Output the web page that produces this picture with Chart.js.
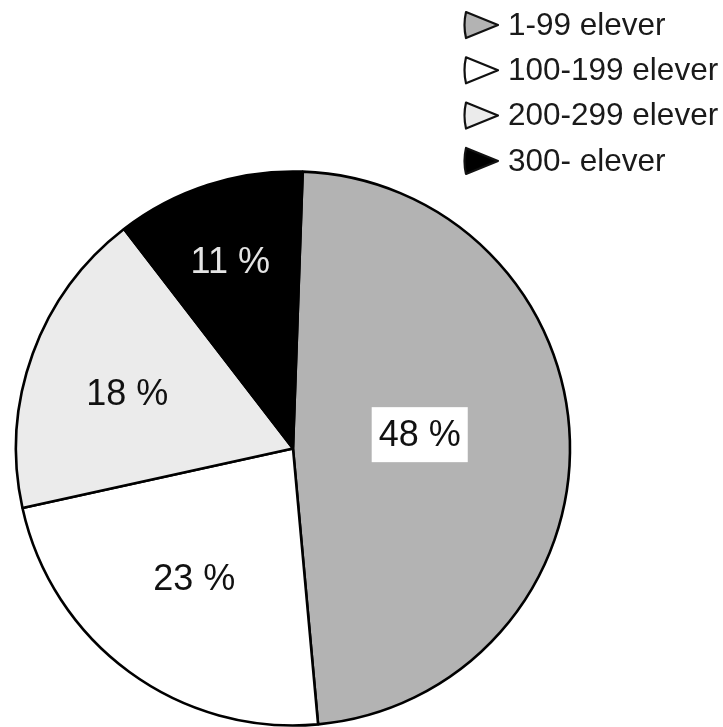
<!DOCTYPE html>
<html>
<head>
<meta charset="utf-8">
<script src="https://cdn.jsdelivr.net/npm/chart.js@4/dist/chart.umd.min.js"></script>
<style>
  html, body { margin: 0; padding: 0; background: #fff; }
  canvas { display: block; }
</style>
</head>
<body>
<canvas id="pie" width="723" height="727"></canvas>
<script>
// School size groups and their share of schools (percent)
const categories = ['1-99 elever', '100-199 elever', '200-299 elever', '300- elever'];
const shares = [48, 23, 18, 11];
const sliceColors = ['#b3b3b3', '#ffffff', '#ebebeb', '#000000'];
const labelColors = ['#111111', '#111111', '#111111', '#e4e4e4'];

// Slice labels and the legend, drawn on top of the pie
const annotate = {
  id: 'annotate',
  afterDraw(chart, args, opts) {
    const ctx = chart.ctx;
    const meta = chart.getDatasetMeta(0);
    const values = chart.data.datasets[0].data;
    ctx.save();
    ctx.font = opts.labelFont;
    ctx.textAlign = 'center';
    ctx.textBaseline = 'middle';
    meta.data.forEach((arc, i) => {
      const p = arc.getProps(['x', 'y', 'startAngle', 'endAngle', 'outerRadius'], true);
      const mid = (p.startAngle + p.endAngle) / 2 + opts.labelShift[i];
      const r = p.outerRadius * opts.labelRadius[i];
      const x = p.x + Math.cos(mid) * r;
      const y = p.y + Math.sin(mid) * r;
      const text = values[i] + ' %';
      if (opts.boxed[i]) {
        const w = ctx.measureText(text).width;
        ctx.fillStyle = '#ffffff';
        ctx.fillRect(x - w / 2 - 7, y - 28, w + 14, 55);
      }
      ctx.fillStyle = labelColors[i];
      ctx.fillText(text, x, y + 1);
    });

    // legend: right-pointing triangle markers with text
    ctx.font = opts.legendFont;
    ctx.textAlign = 'left';
    ctx.textBaseline = 'middle';
    ctx.lineJoin = 'round';
    chart.data.labels.forEach((lab, i) => {
      const cy = opts.legendTop + i * opts.legendStep;
      const mx = opts.legendX;
      ctx.beginPath();
      ctx.moveTo(mx + 1, cy - 13);
      ctx.lineTo(mx + 33, cy);
      ctx.lineTo(mx + 1, cy + 13);
      ctx.quadraticCurveTo(mx - 2, cy, mx + 1, cy - 13);
      ctx.closePath();
      ctx.fillStyle = sliceColors[i];
      ctx.fill();
      ctx.lineWidth = 2.2;
      ctx.strokeStyle = '#111';
      ctx.stroke();
      ctx.fillStyle = '#1a1a1a';
      ctx.fillText(lab, mx + 43, cy + 1);
    });
    ctx.restore();
  }
};

new Chart(document.getElementById('pie'), {
  type: 'pie',
  data: {
    labels: categories,
    datasets: [{
      data: shares,
      backgroundColor: sliceColors,
      borderColor: '#000000',
      borderWidth: 2.6
    }]
  },
  options: {
    responsive: false,
    animation: false,
    rotation: 2,
    radius: 277,
    layout: { padding: { left: 0, right: 137, top: 170, bottom: 0 } },
    events: [],
    plugins: {
      legend: { display: false },
      tooltip: { enabled: false },
      annotate: {
        labelFont: '36px "Liberation Sans", Arial, sans-serif',
        legendFont: '31.5px "Liberation Sans", Arial, sans-serif',
        labelRadius: [0.46, 0.59, 0.63, 0.71],
        labelShift: [-0.077, 0.017, -0.03, -0.014],
        boxed: [true, false, false, false],
        legendX: 465,
        legendTop: 25,
        legendStep: 45.3
      }
    }
  },
  plugins: [annotate]
});
</script>
</body>
</html>
